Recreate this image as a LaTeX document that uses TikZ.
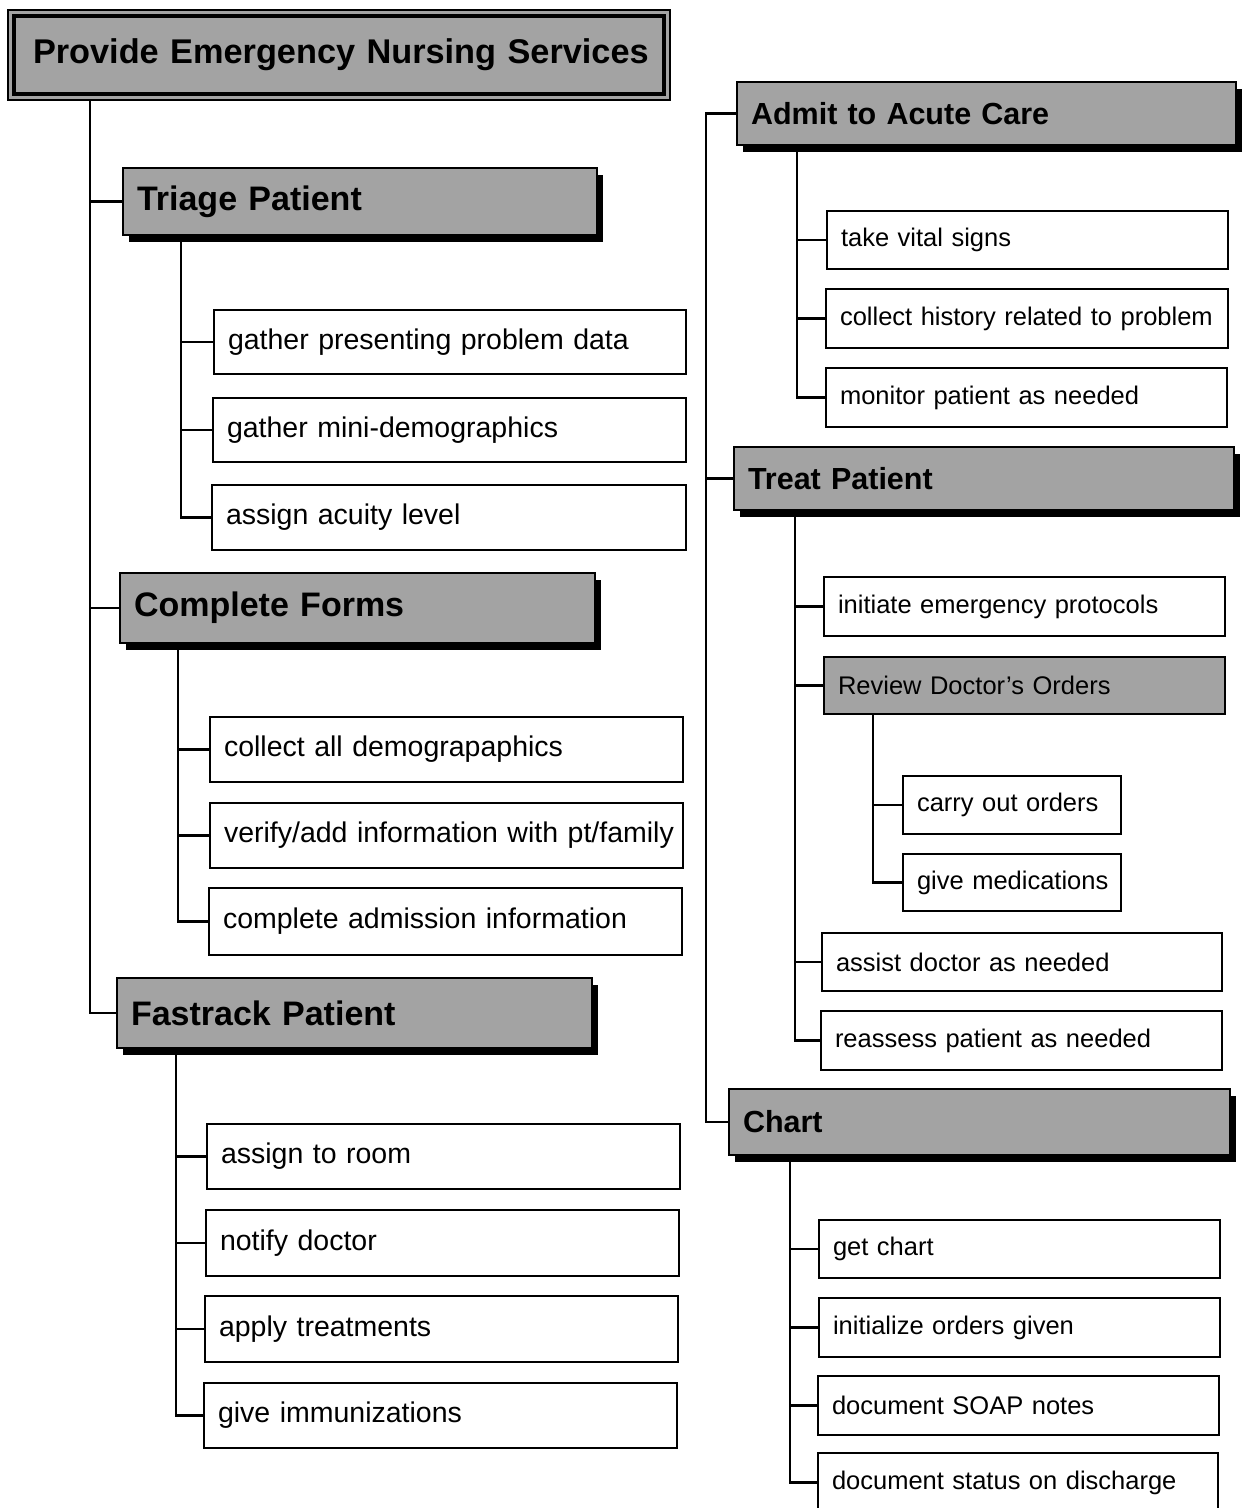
\documentclass[tikz,border=0pt]{standalone}
\usepackage{fontspec}
\setmainfont{Liberation Sans}
\usetikzlibrary{shadows}

\definecolor{halftone}{gray}{0.64}

% box with given corners (x1,y1)-(x2,y2), one line of text set from the left edge
\newcommand\cornerbox[7]{%
  \node[#1, anchor=north west, minimum width={#5-#3}, minimum height={#6-#4},
        text width={#5-#3-28}] (#2) at (#3,#4) {\mbox{#7}};}

\tikzset{
  conn/.style={line width=2.2pt},
  boxbase/.style={draw, line width=2.5pt, inner xsep=14pt, inner ysep=0pt,
                  outer sep=0pt, align=left},
  leafL/.style={boxbase, fill=white, font=\fontsize{28.5}{32}\selectfont},
  leafR/.style={boxbase, fill=white, font=\fontsize{25.5}{30}\selectfont},
  subhead/.style={boxbase, fill=halftone, font=\fontsize{25.5}{30}\selectfont},
  hdrbase/.style={boxbase, fill=halftone,
                  drop shadow={shadow xshift=6pt, shadow yshift=-7pt,
                               fill=black, opacity=1}},
  hdrL/.style={hdrbase, font=\bfseries\fontsize{34}{38}\selectfont},
  hdrR/.style={hdrbase, font=\bfseries\fontsize{30.5}{34}\selectfont},
}

\begin{document}
\begin{tikzpicture}[x=1pt, y=-1pt]
\fill[white] (0,0) rectangle (1248,1508);
\useasboundingbox (0,0) rectangle (1248,1508);

% ---- title ----
\node[draw, line width=1.5pt, fill=halftone, anchor=north west, outer sep=0pt,
      minimum width=662, minimum height=90, inner xsep=25pt, text width=612,
      align=left, font=\bfseries\fontsize{34.3}{40}\selectfont]
  (title) at (8,10) {\mbox{Provide Emergency Nursing Services}};
\draw[line width=4pt] ([shift={(6,6)}]title.north west)
  rectangle ([shift={(-6,-6)}]title.south east);

% ---- left column ----
\cornerbox{hdrL}{triage}{123}{168}{597}{235}{Triage Patient}
\cornerbox{leafL}{l11}{214}{310}{686}{374}{gather presenting problem data}
\cornerbox{leafL}{l12}{213}{398}{686}{462}{gather mini-demographics}
\cornerbox{leafL}{l13}{212}{485}{686}{550}{assign acuity level}

\cornerbox{hdrL}{forms}{120}{573}{595}{643}{Complete Forms}
\cornerbox{leafL}{l21}{210}{717}{683}{782}{collect all demograpaphics}
\cornerbox{leafL}{l22}{210}{803}{683}{868}{verify/add information with pt/family}
\cornerbox{leafL}{l23}{209}{888}{682}{955}{complete admission information}

\cornerbox{hdrL}{fast}{117}{978}{592}{1048}{Fastrack Patient}
\cornerbox{leafL}{l31}{207}{1124}{680}{1189}{assign to room}
\cornerbox{leafL}{l32}{206}{1210}{679}{1276}{notify doctor}
\cornerbox{leafL}{l33}{205}{1296}{678}{1362}{apply treatments}
\cornerbox{leafL}{l34}{204}{1383}{677}{1448}{give immunizations}

% ---- right column ----
\cornerbox{hdrR}{admit}{737}{82}{1236}{145}{Admit to Acute Care}
\cornerbox{leafR}{r11}{827}{211}{1228}{269}{take vital signs}
\cornerbox{leafR}{r12}{826}{289}{1228}{348}{collect history related to problem}
\cornerbox{leafR}{r13}{826}{368}{1227}{427}{monitor patient as needed}

\cornerbox{hdrR}{treat}{734}{447}{1234}{510}{Treat Patient}
\cornerbox{leafR}{r21}{824}{577}{1225}{636}{initiate emergency protocols}
\cornerbox{subhead}{review}{824}{657}{1225}{714}{Review Doctor's Orders}
\cornerbox{leafR}{r31}{903}{776}{1121}{834}{carry out orders}
\cornerbox{leafR}{r32}{903}{854}{1121}{911}{give medications}
\cornerbox{leafR}{r22}{822}{933}{1222}{991}{assist doctor as needed}
\cornerbox{leafR}{r23}{821}{1011}{1222}{1070}{reassess patient as needed}

\cornerbox{hdrR}{chart}{729}{1089}{1230}{1155}{Chart}
\cornerbox{leafR}{r41}{819}{1220}{1220}{1278}{get chart}
\cornerbox{leafR}{r42}{819}{1298}{1220}{1357}{initialize orders given}
\cornerbox{leafR}{r43}{818}{1376}{1219}{1435}{document SOAP notes}
\cornerbox{leafR}{r44}{818}{1453}{1218}{1512}{document status on discharge}

% ---- connectors ----
\coordinate (lt) at (90,0);
\coordinate (rt) at (706,0);

\foreach \h in {triage, forms, fast}
  \draw[conn] (lt |- title.south) |- (\h.west);

\foreach \c in {l11, l12, l13}
  \draw[conn] ([xshift=58pt]triage.south west) |- (\c.west);
\foreach \c in {l21, l22, l23}
  \draw[conn] ([xshift=58pt]forms.south west) |- (\c.west);
\foreach \c in {l31, l32, l33, l34}
  \draw[conn] ([xshift=59pt]fast.south west) |- (\c.west);

\draw[conn] (admit.west) -| (rt |- chart.west) -- (chart.west);
\draw[conn] (rt |- treat.west) -- (treat.west);

\foreach \c in {r11, r12, r13}
  \draw[conn] ([xshift=60pt]admit.south west) |- (\c.west);
\foreach \c in {r21, review, r22, r23}
  \draw[conn] ([xshift=61pt]treat.south west) |- (\c.west);
\foreach \c in {r31, r32}
  \draw[conn] ([xshift=49pt]review.south west) |- (\c.west);
\foreach \c in {r41, r42, r43, r44}
  \draw[conn] ([xshift=61pt]chart.south west) |- (\c.west);
\end{tikzpicture}
\end{document}
